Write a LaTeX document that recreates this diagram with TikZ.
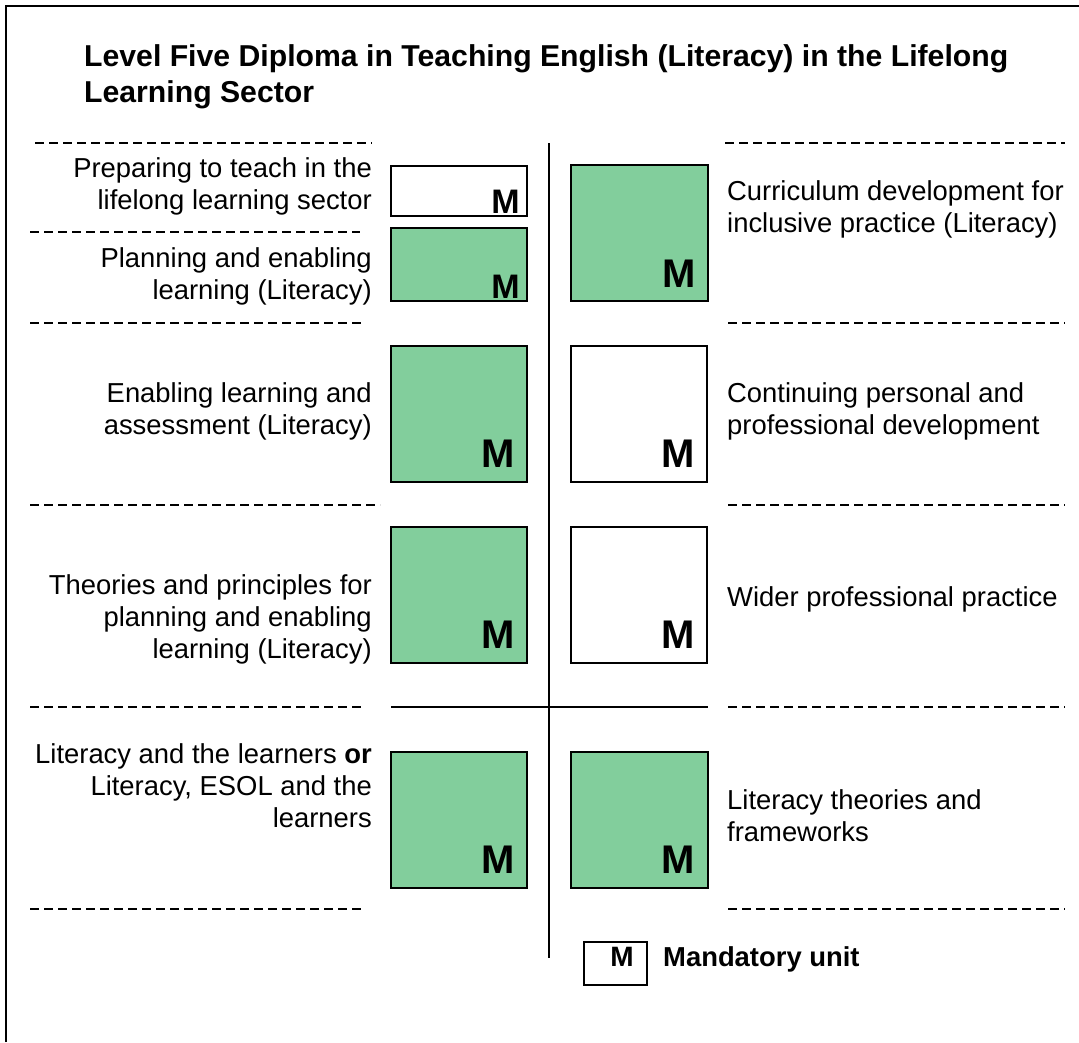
\documentclass[tikz,border=0pt]{standalone}
\usepackage{fontspec}
\setmainfont{Liberation Sans}
\definecolor{unitgreen}{RGB}{130,206,156}
\begin{document}
\begin{tikzpicture}[x=1pt,y=-1pt,
  unitbox/.style={draw=black, line width=1.6pt, anchor=north west, inner sep=0pt, outer sep=0pt},
  mlabel/.style={anchor=base east, inner sep=0pt, font=\fontsize{40}{40}\selectfont\bfseries},
  smlabel/.style={anchor=base east, inner sep=0pt, font=\fontsize{34}{34}\selectfont\bfseries},
  ltext/.style={anchor=base east, align=right, inner sep=0pt, font=\fontsize{27.4}{32}\selectfont},
  rtext/.style={anchor=base west, align=left, inner sep=0pt, font=\fontsize{27.4}{32}\selectfont},
  sep/.style={dashed, dash pattern=on 9pt off 5pt, line width=1.3pt},
  rule/.style={line width=1.6pt}
]
\useasboundingbox (0,0) rectangle (1079,1042);
\fill[white] (0,0) rectangle (1079,1042);
% frame
\draw[line width=2pt] (6,1042) -- (6,6) -- (1079,6);
% title (base anchor = last line)
\node[anchor=base west, align=left, inner sep=0pt, font=\fontsize{30.2}{36}\selectfont\bfseries] (title) at (84,102)
  {Level Five Diploma in Teaching English (Literacy) in the Lifelong\\Learning Sector};
% dividing lines
\draw[rule] (549,143) -- (549,958);
\draw[rule] (391,707) -- (708,707);
% dashed separators
\draw[sep] (35,143) -- (372,143);
\draw[sep] (725,143) -- (1065,143);
\draw[sep] (30,232) -- (360,232);
\draw[sep] (30,323) -- (365,323);
\draw[sep] (728,323) -- (1065,323);
\draw[sep] (30,505) -- (380,505);
\draw[sep] (728,505) -- (1065,505);
\draw[sep] (30,707) -- (365,707);
\draw[sep] (728,707) -- (1065,707);
\draw[sep] (30,909) -- (365,909);
\draw[sep] (728,909) -- (1065,909);
% boxes
\node[unitbox, fill=white, minimum width=136pt, minimum height=50pt] (b1) at (391,166) {};
\node[unitbox, fill=unitgreen, minimum width=136pt, minimum height=73pt] (b2) at (391,228) {};
\node[unitbox, fill=unitgreen, minimum width=137pt, minimum height=136pt] (r1) at (571,165) {};
\node[unitbox, fill=unitgreen, minimum width=136pt, minimum height=136pt] (b3) at (391,346) {};
\node[unitbox, fill=white, minimum width=136pt, minimum height=136pt] (r2) at (571,346) {};
\node[unitbox, fill=unitgreen, minimum width=136pt, minimum height=136pt] (b4) at (391,527) {};
\node[unitbox, fill=white, minimum width=136pt, minimum height=136pt] (r3) at (571,527) {};
\node[unitbox, fill=unitgreen, minimum width=136pt, minimum height=136pt] (b5) at (391,752) {};
\node[unitbox, fill=unitgreen, minimum width=137pt, minimum height=136pt] (r4) at (571,752) {};
% M labels
\node[smlabel] (m1) at ([xshift=-7pt,yshift=3pt]b1.south east) {M};
\node[smlabel] (m2) at ([xshift=-7pt,yshift=3pt]b2.south east) {M};
\node[mlabel] (mr1) at ([xshift=-12pt,yshift=14pt]r1.south east) {M};
\node[mlabel] (m3) at ([xshift=-12pt,yshift=15pt]b3.south east) {M};
\node[mlabel] (mr2) at ([xshift=-12pt,yshift=15pt]r2.south east) {M};
\node[mlabel] (m4) at ([xshift=-12pt,yshift=15pt]b4.south east) {M};
\node[mlabel] (mr3) at ([xshift=-12pt,yshift=15pt]r3.south east) {M};
\node[mlabel] (m5) at ([xshift=-12pt,yshift=15pt]b5.south east) {M};
\node[mlabel] (mr4) at ([xshift=-13pt,yshift=15pt]r4.south east) {M};
% left texts (base anchor = last line)
\node[ltext] (t1) at (372,209) {Preparing to teach in the\\lifelong learning sector};
\node[ltext] (t2) at (372,299) {Planning and enabling\\learning (Literacy)};
\node[ltext] (t3) at (372,434) {Enabling learning and\\assessment (Literacy)};
\node[ltext] (t4) at (372,658) {Theories and principles for\\planning and enabling\\learning (Literacy)};
\node[ltext] (t5) at (372,827) {Literacy and the learners \textbf{or}\\Literacy, ESOL and the\\learners};
% right texts
\node[rtext] (u1) at (727,232) {Curriculum development for\\inclusive practice (Literacy)};
\node[rtext] (u2) at (727,434) {Continuing personal and\\professional development};
\node[rtext] (u3) at (727,606) {Wider professional practice};
\node[rtext] (u4) at (727,841) {Literacy theories and\\frameworks};
% legend
\node[unitbox, fill=white, line width=1.4pt, minimum width=63pt, minimum height=43pt] (leg) at (584,942) {};
\node[anchor=base, inner sep=0pt, font=\fontsize{28}{28}\selectfont\bfseries] (legm) at (622,966) {M};
\node[anchor=base west, inner sep=0pt, font=\fontsize{27.4}{32}\selectfont\bfseries] (legt) at (663,966) {Mandatory unit};
\end{tikzpicture}
\end{document}
